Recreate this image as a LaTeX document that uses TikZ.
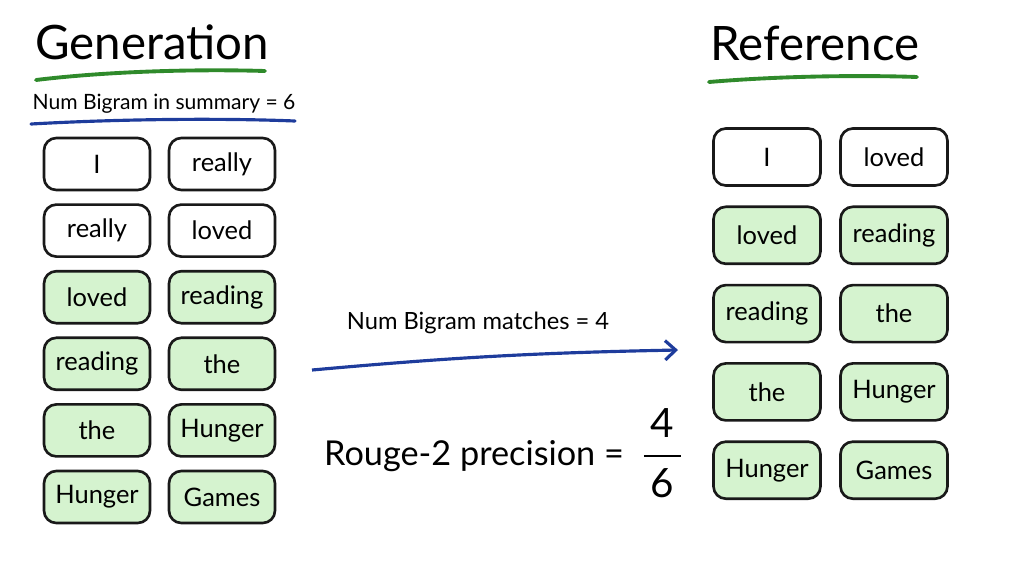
\documentclass[tikz,border=0pt]{standalone}
\usepackage{fontspec}
\setmainfont{Lato}
\usetikzlibrary{arrows.meta,positioning}

\definecolor{hitgreen}{HTML}{D5F3CF}
\definecolor{penblue}{HTML}{1E3C9C}
\definecolor{pengreen}{HTML}{2F8A2B}

\tikzset{
	title/.style={font=\fontsize{27}{32}\selectfont, inner sep=0pt},
	word/.style={draw=black!90, line width=1.5pt, rounded corners=7pt,
		font=\fontsize{14.5}{16}\selectfont, inner sep=0pt},
	genword/.style={word, minimum width=2.12cm, minimum height=1.04cm},
	refword/.style={word, minimum width=2.14cm, minimum height=1.14cm},
	note/.style={font=\fontsize{12}{14}\selectfont, inner sep=0pt},
	underline/.style={line width=2.2pt, line cap=round}
}

\begin{document}
\begin{tikzpicture}[x=0.02cm, y=-0.02cm]
			\useasboundingbox (0,0) rectangle (1024,576);
			
			% Generation side
			\node[title] (gen) at (152,42) {Generation};
			\draw[underline, pengreen] (36,80) .. controls (110,71) and (200,69) .. (265,71);
			\node[note] (gencount) at (164,104) {Num Bigram in summary = 6};
			\draw[underline, penblue, line width=1.8pt] (31,124) .. controls (120,119) and (220,118) .. (295,121);
			
			\foreach \txt/\row/\col/\fc in {
				I/1/1/white, really/1/2/white,
				really/2/1/white, loved/2/2/white,
				loved/3/1/hitgreen, reading/3/2/hitgreen,
				reading/4/1/hitgreen, the/4/2/hitgreen,
				the/5/1/hitgreen, Hunger/5/2/hitgreen,
				Hunger/6/1/hitgreen, Games/6/2/hitgreen} {
				\node[genword, fill=\fc] (g-\row-\col) at ({97+125*(\col-1)}, {164+66.6*(\row-1)}) {\txt};
			}
			
			% Reference side
			\node[title] (ref) at (815,43) {Reference};
			\draw[underline, pengreen] (709,82) .. controls (780,76) and (860,75) .. (917,77);
			
			\foreach \txt/\row/\col/\fc in {
				I/1/1/white, loved/1/2/white,
				loved/2/1/hitgreen, reading/2/2/hitgreen,
				reading/3/1/hitgreen, the/3/2/hitgreen,
				the/4/1/hitgreen, Hunger/4/2/hitgreen,
				Hunger/5/1/hitgreen, Games/5/2/hitgreen} {
				\node[refword, fill=\fc] (r-\row-\col) at ({767+127*(\col-1)}, {157+78.3*(\row-1)}) {\txt};
			}
			
			% Matches arrow
			\coordinate (arrowtail) at (312,370);
			\coordinate (arrowhead) at (678,350);
			\draw[penblue, line width=1.8pt, -{Straight Barb[length=6pt, width=11pt]}] (arrowtail) to[bend left=2] (arrowhead);
			\node[note, font=\fontsize{13.5}{16}\selectfont] (matches) at (478,323) {Num Bigram matches = 4};
			
			% Precision
			\node[inner sep=0pt, font=\fontsize{19.5}{24}\selectfont] (prec) at (474,456) {Rouge-2 precision =};
			\node[inner sep=0pt, font=\fontsize{23}{27}\selectfont, right=11pt of prec.east] (frac)
				{\setlength{\arrayrulewidth}{1.3pt}\renewcommand{\arraystretch}{1.2}%
				 \begin{tabular}{@{\,}c@{\,}}4\\\hline 6\end{tabular}};
		\end{tikzpicture}
\end{document}
